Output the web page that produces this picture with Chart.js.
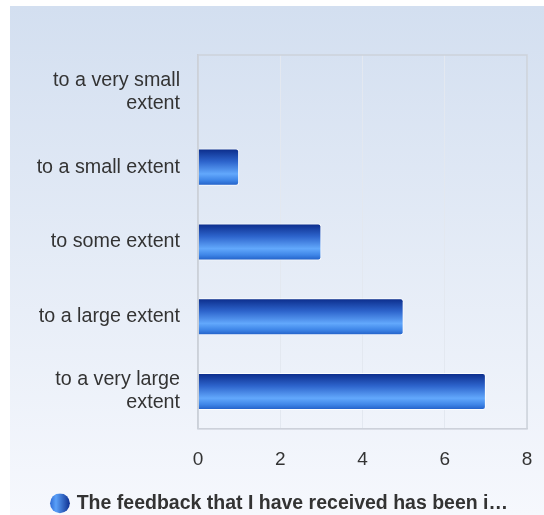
<!DOCTYPE html>
<html>
<head>
<meta charset="utf-8">
<script src="https://cdn.jsdelivr.net/npm/chart.js@4/dist/chart.umd.min.js"></script>
<style>
  html, body { margin: 0; padding: 0; background: #fff; }
  #wrap { width: 544px; height: 515px; }
</style>
</head>
<body>
<div id="wrap"><canvas id="chart"></canvas></div>
<script>
const categories = [
    ['to a very small', 'extent'],
    'to a small extent',
    'to some extent',
    'to a large extent',
    ['to a very large', 'extent']
];
const counts = [0, 1, 3, 5, 7];
const seriesName = 'The feedback that I have received has been i\u2026';
const xTicks = [0, 2, 4, 6, 8];

const BAR_PCT = 0.62;
const CAT_PCT = 0.8;

// Vertical gradient per bar, based on where the y scale puts it
function barGradient(context) {
    const chart = context.chart;
    const yScale = chart.scales.y;
    if (!yScale || !chart.chartArea) return '#2f6fdc';
    const y = yScale.getPixelForValue(context.dataIndex);
    const h = (yScale.height / categories.length) * BAR_PCT * CAT_PCT;
    const g = chart.ctx.createLinearGradient(0, y - h / 2, 0, y + h / 2);
    g.addColorStop(0, '#0a2a88');
    g.addColorStop(0.35, '#2d64cc');
    g.addColorStop(0.68, '#62a8fc');
    g.addColorStop(0.85, '#3f86e8');
    g.addColorStop(1, '#1f5cc4');
    return g;
}

// Page background panel, plot frame, legend nudge + legend dot gradient
const panelPlugin = {
    id: 'panel',
    afterLayout(chart) {
        chart.legend.left += 12;
        chart.legend.right += 12;
    },
    beforeDraw(chart) {
        const ctx = chart.ctx;
        const g = ctx.createLinearGradient(0, 6, 0, chart.height);
        g.addColorStop(0, '#d3dff0');
        g.addColorStop(1, '#f6f8fd');
        ctx.save();
        ctx.fillStyle = g;
        ctx.fillRect(10, 6, chart.width - 10, chart.height - 6);
        ctx.restore();

        const hb = chart.legend.legendHitBoxes && chart.legend.legendHitBoxes[0];
        const item = chart.legend.legendItems && chart.legend.legendItems[0];
        if (hb && item) {
            const cx = hb.left + 7;
            const dg = ctx.createLinearGradient(cx - 10, 0, cx + 10, 0);
            dg.addColorStop(0, '#2e6ad4');
            dg.addColorStop(0.3, '#5aa0f8');
            dg.addColorStop(1, '#0d2f90');
            item.fillStyle = dg;
        }
    },
    afterDatasetsDraw(chart) {
        const a = chart.chartArea;
        const ctx = chart.ctx;
        ctx.save();
        ctx.strokeStyle = '#cdd2da';
        ctx.lineWidth = 1.5;
        ctx.strokeRect(a.left, a.top, a.right - a.left, a.bottom - a.top);
        ctx.restore();
    }
};

new Chart(document.getElementById('chart'), {
    type: 'bar',
    data: {
        labels: categories,
        datasets: [{
            label: seriesName,
            data: counts,
            backgroundColor: barGradient,
            borderColor: 'rgba(255,255,255,0.85)',
            borderWidth: 1,
            borderRadius: 3,
            barPercentage: BAR_PCT,
            categoryPercentage: CAT_PCT
        }]
    },
    options: {
        indexAxis: 'y',
        responsive: true,
        maintainAspectRatio: false,
        animation: false,
        layout: { padding: { top: 55, right: 17, left: 10, bottom: -8 } },
        scales: {
            x: {
                min: 0,
                max: 8,
                afterBuildTicks(scale) {
                    scale.ticks = xTicks.map(v => ({ value: v }));
                },
                afterFit(scale) { scale.height = 64.6; },
                grid: { color: '#e3e8f0', drawTicks: true, tickLength: 17, tickColor: 'rgba(0,0,0,0)' },
                border: { color: '#cdd2da' },
                ticks: {
                    color: '#333',
                    padding: 2,
                    font: { family: 'Liberation Sans, Arial, sans-serif', size: 19 }
                }
            },
            y: {
                afterFit(scale) { scale.width = 188; },
                grid: { display: false, drawTicks: false },
                border: { color: '#c8ccd4', width: 1.5 },
                ticks: {
                    color: '#333',
                    padding: 18,
                    font: { family: 'Liberation Sans, Arial, sans-serif', size: 19.7, lineHeight: 1.17 }
                }
            }
        },
        plugins: {
            legend: {
                position: 'bottom',
                labels: {
                    usePointStyle: true,
                    pointStyle: 'circle',
                    boxWidth: 14,
                    boxHeight: 14,
                    padding: 0,
                    color: '#333',
                    font: { family: 'Liberation Sans, Arial, sans-serif', size: 19.5, weight: 'bold' },
                    generateLabels(chart) {
                        return [{
                            text: seriesName,
                            fillStyle: '#3574de',
                            strokeStyle: '#2a62c8',
                            lineWidth: 0,
                            pointStyle: 'circle',
                            datasetIndex: 0,
                            fontColor: '#333'
                        }];
                    }
                }
            },
            tooltip: { enabled: false }
        }
    },
    plugins: [panelPlugin]
});
</script>
</body>
</html>
